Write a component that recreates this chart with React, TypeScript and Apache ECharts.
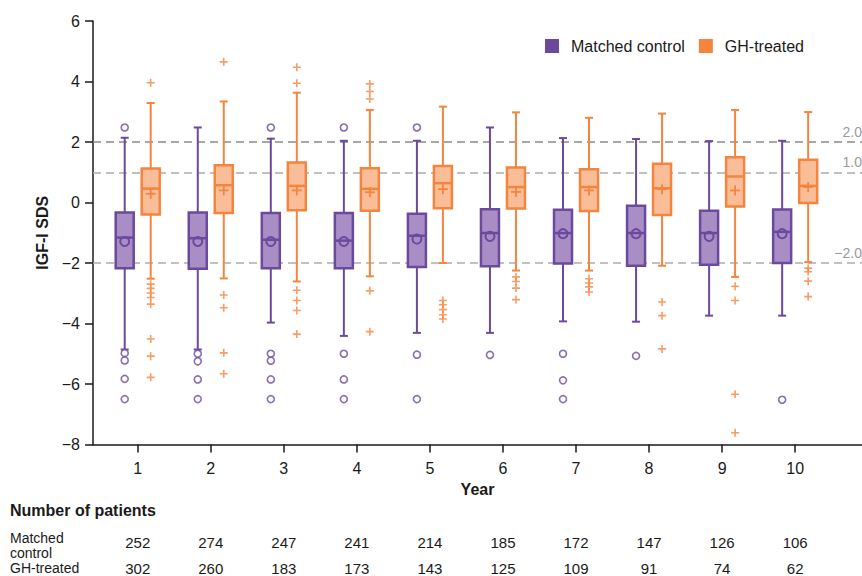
import React, { useEffect, useRef } from "react";
import * as echarts from "echarts";

const years = [1, 2, 3, 4, 5, 6, 7, 8, 9, 10];

// [year, lowerWhisker, Q1, median, Q3, upperWhisker, mean]
const controlBoxes = [
  [1, -4.86, -2.17, -1.16, -0.33, 2.14, -1.29],
  [2, -4.86, -2.19, -1.18, -0.33, 2.48, -1.29],
  [3, -3.97, -2.17, -1.23, -0.35, 2.11, -1.29],
  [4, -4.41, -2.17, -1.26, -0.35, 2.04, -1.29],
  [5, -4.31, -2.13, -1.10, -0.37, 2.04, -1.21],
  [6, -4.31, -2.11, -1.01, -0.22, 2.48, -1.12],
  [7, -3.93, -2.02, -1.01, -0.24, 2.13, -1.03],
  [8, -3.94, -2.09, -1.01, -0.11, 2.10, -1.03],
  [9, -3.74, -2.06, -1.01, -0.27, 2.03, -1.12],
  [10, -3.74, -2.0, -0.97, -0.23, 2.04, -1.03],
];

const treatedBoxes = [
  [1, -2.52, -0.40, 0.46, 1.12, 3.29, 0.29],
  [2, -2.51, -0.35, 0.57, 1.23, 3.34, 0.40],
  [3, -2.61, -0.26, 0.55, 1.32, 3.63, 0.40],
  [4, -2.44, -0.27, 0.45, 1.13, 3.06, 0.34],
  [5, -2.0, -0.19, 0.64, 1.21, 3.17, 0.44],
  [6, -2.25, -0.20, 0.51, 1.16, 2.98, 0.35],
  [7, -2.25, -0.28, 0.51, 1.10, 2.80, 0.40],
  [8, -2.09, -0.41, 0.47, 1.28, 2.94, 0.44],
  [9, -2.46, -0.13, 0.86, 1.50, 3.06, 0.40],
  [10, -1.97, -0.02, 0.55, 1.41, 2.99, 0.51],
];

// [year, value]
const controlOutliers = [
  [1, 2.48], [1, -4.98], [1, -5.22], [1, -5.83], [1, -6.5],
  [2, -5.0], [2, -5.25], [2, -5.85], [2, -6.5],
  [3, 2.48], [3, -5.0], [3, -5.23], [3, -5.85], [3, -6.5],
  [4, 2.48], [4, -5.0], [4, -5.85], [4, -6.5],
  [5, 2.48], [5, -5.03], [5, -6.5],
  [6, -5.04],
  [7, -5.0], [7, -5.88], [7, -6.5],
  [8, -5.07],
  [10, -6.52],
];

const treatedOutliers = [
  [1, 3.96], [1, -2.70], [1, -2.84], [1, -2.99], [1, -3.14], [1, -3.36], [1, -4.51], [1, -5.08], [1, -5.78],
  [2, 4.65], [2, -3.06], [2, -3.48], [2, -4.97], [2, -5.66],
  [3, 4.47], [3, 3.94], [3, -2.90], [3, -3.24], [3, -3.57], [3, -4.35],
  [4, 3.92], [4, 3.67], [4, 3.42], [4, -2.92], [4, -4.27],
  [5, -3.24], [5, -3.38], [5, -3.54], [5, -3.71], [5, -3.85],
  [6, -2.46], [6, -2.61], [6, -2.83], [6, -3.21],
  [7, -2.52], [7, -2.66], [7, -2.79], [7, -2.96],
  [8, -3.29], [8, -3.74], [8, -4.84],
  [9, -2.77], [9, -3.24], [9, -6.34], [9, -7.61],
  [10, -2.17], [10, -2.29], [10, -2.60], [10, -3.11],
];

const controlCounts = [252, 274, 247, 241, 214, 185, 172, 147, 126, 106];
const treatedCounts = [302, 260, 183, 173, 143, 125, 109, 91, 74, 62];

const refLines = [
  { value: 2, label: "2.0" },
  { value: 1, label: "1.0" },
  { value: -2, label: "\u22122.0" },
];

const yTicks = [6, 4, 2, 0, -2, -4, -6, -8];

const PURPLE = "#6B4A9E";
const PURPLE_FILL = "#A98EC6";
const ORANGE = "#F5843F";
const ORANGE_FILL = "#F9BE98";
const FONT = "'Liberation Sans', Arial, sans-serif";
const NARROW = "'Liberation Sans Narrow', 'Arial Narrow', 'Liberation Sans', sans-serif";

function boxRenderer(offsetPx: number, stroke: string, fill: string, meanShape: "circle" | "plus") {
  return (params: any, api: any) => {
    const x = api.value(0);
    const lo = api.coord([x, api.value(1)]);
    const q1 = api.coord([x, api.value(2)]);
    const md = api.coord([x, api.value(3)]);
    const q3 = api.coord([x, api.value(4)]);
    const hi = api.coord([x, api.value(5)]);
    const mn = api.coord([x, api.value(6)]);
    const cx = lo[0] + offsetPx;
    const hw = 9;
    const cap = 4;
    const wStyle = { stroke, lineWidth: 2 };
    const children: any[] = [
      { type: "line", shape: { x1: cx, y1: hi[1], x2: cx, y2: q3[1] }, style: wStyle },
      { type: "line", shape: { x1: cx, y1: q1[1], x2: cx, y2: lo[1] }, style: wStyle },
      { type: "line", shape: { x1: cx - cap, y1: hi[1], x2: cx + cap, y2: hi[1] }, style: wStyle },
      { type: "line", shape: { x1: cx - cap, y1: lo[1], x2: cx + cap, y2: lo[1] }, style: wStyle },
      {
        type: "rect",
        shape: { x: cx - hw, y: q3[1], width: hw * 2, height: q1[1] - q3[1] },
        style: { fill, stroke, lineWidth: 2.5 },
      },
      { type: "line", shape: { x1: cx - hw, y1: md[1], x2: cx + hw, y2: md[1] }, style: { stroke, lineWidth: 2.5 } },
    ];
    if (meanShape === "circle") {
      children.push({ type: "circle", shape: { cx, cy: mn[1], r: 4.5 }, style: { fill: "none", stroke, lineWidth: 2 } });
    } else {
      children.push({ type: "line", shape: { x1: cx - 5, y1: mn[1], x2: cx + 5, y2: mn[1] }, style: { stroke, lineWidth: 1.8 } });
      children.push({ type: "line", shape: { x1: cx, y1: mn[1] - 5, x2: cx, y2: mn[1] + 5 }, style: { stroke, lineWidth: 1.8 } });
    }
    return { type: "group", children };
  };
}

export default function App() {
  const ref = useRef<HTMLDivElement>(null);

  useEffect(() => {
    document.body.style.margin = "0";
    if (!ref.current) return;
    const chart = echarts.init(ref.current, undefined, { renderer: "svg" });

    const xMin = 0.388;
    const xMax = 10.915;

    const countAxis = (counts: number[], offset: number) => ({
      type: "value",
      gridIndex: 0,
      position: "bottom",
      min: xMin,
      max: xMax,
      offset,
      axisLine: { show: false, onZero: false },
      axisTick: { show: false },
      splitLine: { show: false },
      axisLabel: {
        customValues: years,
        margin: 0,
        formatter: (v: number) => String(counts[Math.round(v) - 1]),
        fontFamily: NARROW,
        fontSize: 15,
        color: "#1a1a1a",
        verticalAlign: "middle",
      },
    });

    const option: any = {
      animation: false,
      backgroundColor: "#ffffff",
      textStyle: { fontFamily: FONT },
      grid: { left: 93, top: 21, width: 779, height: 424, containLabel: false },
      legend: {
        left: 545,
        top: 38,
        padding: 0,
        itemWidth: 14,
        itemHeight: 14,
        itemGap: 14,
        icon: "rect",
        textStyle: { fontSize: 16, color: "#1a1a1a", fontFamily: FONT, padding: [0, 0, 0, 7] },
        data: [
          { name: "Matched control", itemStyle: { color: PURPLE } },
          { name: "GH-treated", itemStyle: { color: ORANGE } },
        ],
      },
      xAxis: [
        {
          type: "value",
          min: xMin,
          max: xMax,
          name: "Year",
          nameLocation: "middle",
          nameGap: 37,
          nameTextStyle: { fontSize: 16, fontWeight: "bold", color: "#1a1a1a", fontFamily: FONT },
          axisLine: { onZero: false, lineStyle: { color: "#1a1a1a", width: 1.5 } },
          axisTick: { customValues: years, length: 8, lineStyle: { color: "#1a1a1a", width: 1.5 } },
          axisLabel: { customValues: years, fontSize: 16, color: "#1a1a1a", margin: 16 },
          splitLine: { show: false },
        },
        countAxis(controlCounts, 98),
        countAxis(treatedCounts, 124),
      ],
      yAxis: {
        type: "value",
        min: -8,
        max: 6,
        interval: 2,
        name: "IGF-I SDS",
        nameLocation: "middle",
        nameGap: 43,
        nameTextStyle: { fontSize: 16, fontWeight: "bold", color: "#1a1a1a", fontFamily: FONT },
        axisLine: { show: true, onZero: false, lineStyle: { color: "#1a1a1a", width: 1.5 } },
        axisTick: { show: true, length: 8, lineStyle: { color: "#1a1a1a", width: 1.5 } },
        axisLabel: {
          customValues: yTicks,
          fontSize: 16,
          color: "#1a1a1a",
          margin: 13,
          formatter: (v: number) => (v < 0 ? "\u2212" + Math.abs(v) : String(v)),
        },
        splitLine: { show: false },
      },
      graphic: [
        {
          type: "text",
          left: 10,
          top: 502,
          style: { text: "Number of patients", fontFamily: NARROW, fontWeight: "bold", fontSize: 16, fill: "#1a1a1a" },
        },
        {
          type: "text",
          left: 10,
          top: 530,
          style: { text: "Matched\ncontrol", fontFamily: NARROW, fontSize: 14, lineHeight: 15, fill: "#1a1a1a" },
        },
        {
          type: "text",
          left: 10,
          top: 561,
          style: { text: "GH-treated", fontFamily: NARROW, fontSize: 14, fill: "#1a1a1a" },
        },
      ],
      series: [
        {
          name: "Matched control",
          type: "custom",
          renderItem: boxRenderer(-13, PURPLE, PURPLE_FILL, "circle"),
          itemStyle: { color: PURPLE },
          data: controlBoxes,
          encode: { x: 0, y: [1, 2, 3, 4, 5] },
          z: 3,
          markLine: {
            silent: true,
            symbol: "none",
            z: 1,
            data: refLines.map((r) => ({
              yAxis: r.value,
              lineStyle: { color: r.value === 2 ? "#8a8a8a" : "#adadad", type: [8, 5], width: 1.5 },
              label: {
                show: true,
                position: "insideEndTop",
                formatter: r.label,
                color: "#9a9a9a",
                fontSize: 14,
                distance: [0, 3],
              },
            })),
          },
        },
        {
          name: "GH-treated",
          type: "custom",
          renderItem: boxRenderer(13, ORANGE, ORANGE_FILL, "plus"),
          itemStyle: { color: ORANGE },
          data: treatedBoxes,
          encode: { x: 0, y: [1, 2, 3, 4, 5] },
          z: 3,
        },
        {
          name: "Matched control",
          type: "scatter",
          data: controlOutliers,
          symbol: "circle",
          symbolSize: 7,
          symbolOffset: [-13, 0],
          itemStyle: { color: "#ffffff", borderColor: PURPLE, borderWidth: 1.6 },
          z: 4,
        },
        {
          name: "GH-treated",
          type: "scatter",
          data: treatedOutliers,
          symbol: "path://M0,4L8,4M4,0L4,8",
          symbolSize: 8,
          symbolOffset: [13, 0],
          itemStyle: { color: "none", borderColor: ORANGE, borderWidth: 1.6 },
          z: 4,
        },
      ],
    };

    chart.setOption(option);
    return () => chart.dispose();
  }, []);

  return <div ref={ref} style={{ width: 862, height: 576 }} />;
}
